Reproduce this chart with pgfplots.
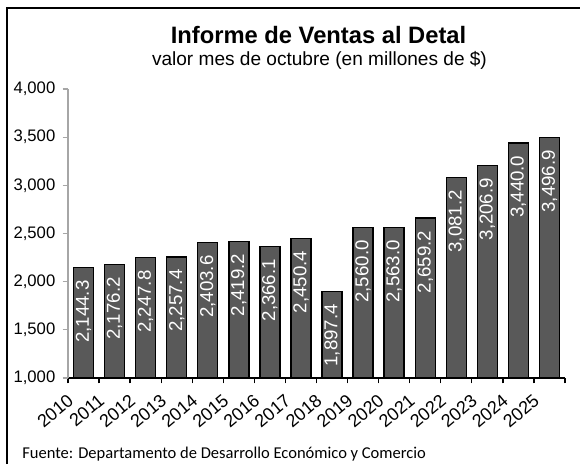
\documentclass[border=0pt]{standalone}
\usepackage{pgfplots}
\pgfplotsset{compat=1.18}
\usepackage{pgfplotstable}
\usepackage{fontspec}
\setmainfont{Liberation Sans}
\newfontfamily\footfont{Carlito}
\definecolor{barfill}{HTML}{595959}
\definecolor{axgray}{HTML}{A6A6A6}

\pgfplotstableread{
x y label
0 2144.3 {2,144.3}
1 2176.2 {2,176.2}
2 2247.8 {2,247.8}
3 2257.4 {2,257.4}
4 2403.6 {2,403.6}
5 2419.2 {2,419.2}
6 2366.1 {2,366.1}
7 2450.4 {2,450.4}
8 1897.4 {1,897.4}
9 2560.0 {2,560.0}
10 2563.0 {2,563.0}
11 2659.2 {2,659.2}
12 3081.2 {3,081.2}
13 3206.9 {3,206.9}
14 3440.0 {3,440.0}
15 3496.9 {3,496.9}
}\datatable

\begin{document}
\begin{tikzpicture}
\useasboundingbox (0,0) rectangle (435pt,348pt);
\draw[line width=1.2pt] (5.25pt,0) -- (5.25pt,342pt) -- (436pt,342pt);
\node[font=\bfseries\fontsize{17.8}{17.8}\selectfont, anchor=base] at (238.9pt,315pt) {Informe de Ventas al Detal};
\node[font=\fontsize{14.3}{14.3}\selectfont, anchor=base] at (239.6pt,299pt) {valor mes de octubre (en millones de \$)};
\node[font=\footfont\fontsize{12.4}{12.4}\selectfont, anchor=base west, inner sep=0pt] at (16.5pt,4.5pt) {Fuente: Departamento de Desarrollo Económico y Comercio};
\begin{axis}[
  at={(51pt,64.5pt)}, anchor=south west,
  scale only axis, width=372.75pt, height=216.75pt,
  xmin=-0.5, xmax=15.5, ymin=1000, ymax=4000,
  ybar, bar width=15pt,
  ytick={1000,1500,...,4000},
  xtick={-0.5,0.5,...,15.5},
  xticklabels={2010,2011,2012,2013,2014,2015,2016,2017,2018,2019,2020,2021,2022,2023,2024,2025,{}},
  axis x line*=bottom, axis y line*=left,
  x axis line style={black, line width=1pt},
  y axis line style={axgray, line width=0.8pt},
  tick align=outside, major tick length=4pt,
  ytick style={axgray, line width=0.8pt},
  xtick style={black, line width=1pt},
  /pgf/number format/1000 sep={,},
  /pgf/number format/assume math mode=true,
  yticklabel style={font=\fontsize{12.5}{12.5}\selectfont, xshift=-2pt},
  xticklabel style={font=\fontsize{13.5}{13.5}\selectfont, anchor=east, inner sep=0pt, xshift=2pt, yshift=-11pt, rotate=40},
  nodes near coords,
  point meta=explicit symbolic,
  every node near coord/.append style={font=\fontsize{14}{14}\selectfont, text=white, inner sep=0pt, yshift=-9pt, rotate=90, anchor=east},
]
\addplot[fill=barfill, draw=black, line width=1pt] table[x=x, y=y, meta=label]{\datatable};
\end{axis}
\end{tikzpicture}
\end{document}
